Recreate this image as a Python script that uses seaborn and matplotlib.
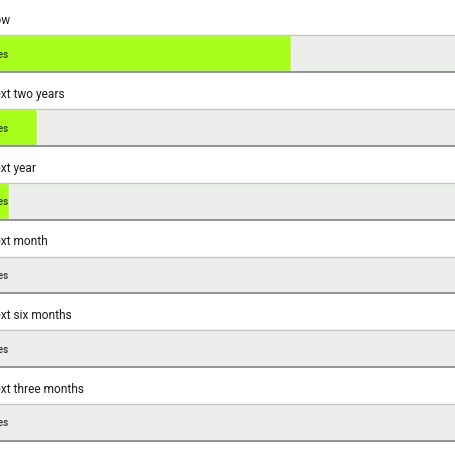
import matplotlib
matplotlib.use("Agg")
import matplotlib.pyplot as plt
import seaborn as sns
import pandas as pd

# answer options (chart is cropped on the left, as in the source picture)
questions = ["Now", "Next two years", "Next year", "Next month",
             "Next six months", "Next three months"]
answers = ["Yes", "Yes", "Yes", "Yes", "Yes", "Yes"]
share = [65.3, 12.0, 6.1, 0, 0, 0]
full = [100, 100, 100, 100, 100, 100]

df = pd.DataFrame({"question": questions, "share": share, "full": full})

sns.set_theme(style="white")
plt.rcParams["font.family"] = ["Roboto", "DejaVu Sans"]

fig = plt.figure(figsize=(4.56, 4.56), dpi=100)
# axes starts a bit left of the figure edge -> labels get cut like the reference
ax = fig.add_axes([-20 / 456, 0, 476 / 456, 1])

sns.barplot(data=df, y="question", x="full", color="#ebeeeb", width=0.5,
            orient="h", saturation=1, ax=ax)
sns.barplot(data=df, y="question", x="share", color="#a8ff1c", width=0.5,
            orient="h", saturation=1, ax=ax)

ax.set_xlim(0, 100)
ax.set_ylim(5.442, -0.745)

for i, q in enumerate(questions):
    ax.hlines(i - 0.25, 0, 100, color="#c4c6c4", lw=1)
    ax.hlines(i + 0.25, 0, 100, color="#8a8c8a", lw=1.3)
    ax.text(1.2, i - 0.415, q, va="baseline", ha="left", fontsize=8.6,
            color="#1a1a1a")
    ax.text(2.7, i, answers[i], va="center", ha="left", fontsize=7,
            fontweight="medium",
            color="#2b3a10" if share[i] > 3 else "#333333")

ax.axis("off")
fig.savefig("out.png", dpi=100)
